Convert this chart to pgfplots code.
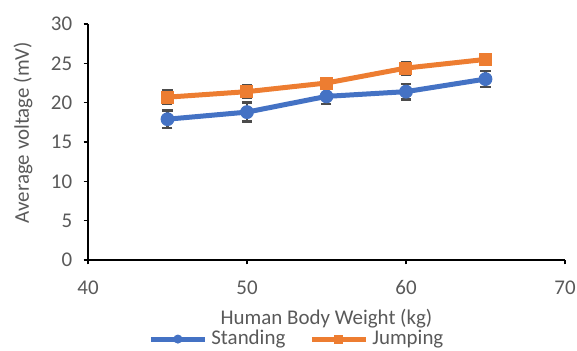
\documentclass[border=0pt]{standalone}
\usepackage{pgfplots}
\pgfplotsset{compat=1.18}
\usepackage{pgfplotstable}
\usepackage{fontspec}
\setmainfont{Carlito}
\definecolor{exblue}{HTML}{4472C4}
\definecolor{exorange}{HTML}{ED7D31}
\definecolor{txtgray}{HTML}{595959}
\pgfplotstableread{
x y e
45 17.9 1.1
50 18.8 1.2
55 20.8 1.0
60 21.4 1.0
65 23.0 1.0
}\standing
\pgfplotstableread{
x y e
45 20.7 0.9
50 21.4 0.8
55 22.5 0.6
60 24.4 0.8
65 25.5 0.6
}\jumping
\begin{document}
\begin{tikzpicture}
\begin{axis}[
  name=ax,
  scale only axis,
  width=238.5bp, height=118bp,
  xmin=40, xmax=70, ymin=0, ymax=30,
  xtick={40,50,60,70}, ytick={0,5,...,30},
  axis lines*=left,
  axis line style={black, line width=0.8bp, -},
  tick style={black, line width=0.8bp},
  tick align=outside,
  major tick length=2.2bp,
  font=\fontsize{10.5}{12}\selectfont,
  /pgf/number format/assume math mode=true,
  ticklabel style={text=txtgray, font=\fontsize{10.5}{12}\selectfont},
  xticklabel style={anchor=north, inner sep=0pt, yshift=-8bp},
  yticklabel style={anchor=east, inner sep=0pt, xshift=-5.5bp},
  xlabel={Human Body Weight (kg)},
  ylabel={Average voltage (mV)},
  label style={text=txtgray},
  xlabel style={at={(axis description cs:0.5,-0.25)}, anchor=center},
  ylabel style={at={(axis description cs:-0.136,0.54)}, anchor=center, rotate=0},
  legend columns=2,
  legend style={draw=none, fill=none, at={(axis description cs:0.44,-0.335)}, anchor=center,
    font=\fontsize{10.5}{12}\selectfont, text=txtgray,
    /tikz/every even column/.append style={column sep=10bp}},
  legend image code/.code={\draw[#1] (0bp,0bp) -- (27bp,0bp); \draw[#1, only marks, mark size=2bp] plot coordinates {(13.5bp,0bp)};},
  clip=false,
]
\coordinate (sw) at (rel axis cs:0,0);
\coordinate (ne) at (rel axis cs:1,1);
\addplot+[exblue, line width=2.5bp, mark=*, mark size=3.2bp, mark options={fill=exblue, draw=exblue, line width=0.5bp},
  error bars/.cd, y dir=both, y explicit, error mark options={rotate=90, mark size=2.5bp, line width=1.2bp, draw=black!70},
  error bar style={line width=1.2bp, draw=black!70}]
  table[x=x, y=y, y error=e] {\standing};
\addlegendentry{Standing}
\addplot+[exorange, line width=2.5bp, mark=square*, mark size=3bp, mark options={fill=exorange, draw=exorange, line width=0.5bp},
  error bars/.cd, y dir=both, y explicit, error mark options={rotate=90, mark size=2.5bp, line width=1.2bp, draw=black!70},
  error bar style={line width=1.2bp, draw=black!70}]
  table[x=x, y=y, y error=e] {\jumping};
\addlegendentry{Jumping}
\end{axis}
\pgfresetboundingbox
\path ([shift={(-44bp,-45.5bp)}]sw) rectangle ([shift={(6bp,12bp)}]ne);
\end{tikzpicture}
\end{document}
